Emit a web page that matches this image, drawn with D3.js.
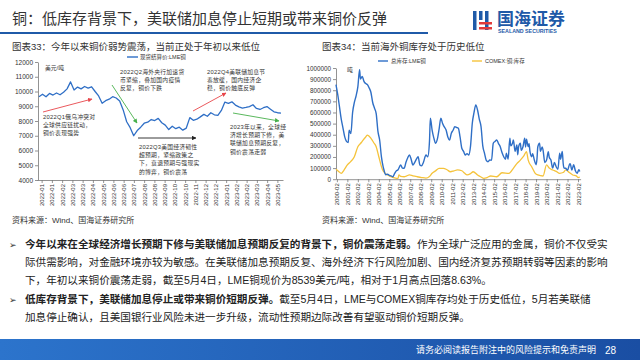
<!DOCTYPE html>
<html><head><meta charset="utf-8">
<script src="https://cdn.jsdelivr.net/npm/d3@7"></script>
<style>
body{margin:0;background:#fff}
svg{display:block}
text{font-family:"Liberation Sans","Noto Sans CJK SC",sans-serif}
</style>
</head><body>
<svg id="c" width="640" height="360"></svg>
<script>
// ---------- data ----------
const priceValues = [9650,9820,9640,9870,9760,9900,9780,9950,10180,10650,10100,10300,10180,10340,10230,10320,10000,9700,9200,9380,
  9480,9650,9560,9350,8750,7950,7550,7000,7350,7580,7850,7920,8100,8030,8180,7880,7720,7420,7650,7480,
  7580,7380,7520,8230,8050,8120,8280,8450,8320,8560,8420,8380,8720,9280,9200,9300,9080,8960,8880,8920,
  8980,9100,8850,8780,8900,8980,8800,8620,8560,8540];
const priceTicks = ["2022-01","2022-01","2022-02","2022-03","2022-03","2022-04","2022-05","2022-06","2022-06","2022-07",
  "2022-08","2022-08","2022-09","2022-10","2022-10","2022-11","2022-12","2022-12","2023-01","2023-02","2023-02","2023-03","2023-04","2023-05"];
const priceYTicks = [4000,5000,6000,7000,8000,9000,10000,11000,12000];

const lmeDates = ["2000-01","2000-03","2000-05","2000-07","2000-09","2000-11","2001-01","2001-03","2001-04","2001-06","2001-08","2001-10","2001-12",
  "2002-02","2002-04","2002-05","2002-07","2002-09","2002-11","2003-01","2003-03","2003-05","2003-07","2003-09","2003-11",
  "2004-01","2004-03","2004-05","2004-07","2004-08","2004-10","2004-12","2005-02","2005-04","2005-06","2005-08","2005-10","2005-12",
  "2006-03","2006-05","2006-07","2006-09","2006-11","2007-01","2007-03","2007-05","2007-07","2007-09","2007-11",
  "2008-01","2008-03","2008-05","2008-08","2008-10","2008-12","2009-01","2009-03","2009-05","2009-07","2009-09","2009-11",
  "2010-01","2010-03","2010-05","2010-07","2010-09","2010-11","2011-01","2011-03","2011-05","2011-07","2011-09","2011-11",
  "2012-01","2012-03","2012-05","2012-07","2012-09","2012-11","2013-01","2013-03","2013-05","2013-07","2013-09","2013-11",
  "2014-01","2014-03","2014-05","2014-07","2014-09","2014-11","2015-01","2015-03","2015-05","2015-07","2015-09","2015-11",
  "2016-01","2016-03","2016-04","2016-06","2016-08","2016-09","2016-11","2016-12","2017-02","2017-04","2017-05","2017-06","2017-08","2017-09","2017-11",
  "2018-01","2018-02","2018-03","2018-05","2018-06","2018-07","2018-09","2018-10","2018-12","2019-02","2019-03","2019-04","2019-06","2019-07","2019-09","2019-10","2019-12",
  "2020-02","2020-04","2020-05","2020-07","2020-09","2020-11","2021-01","2021-03","2021-05","2021-06","2021-08","2021-09","2021-10","2021-12",
  "2022-02","2022-04","2022-05","2022-07","2022-09","2022-11","2023-01","2023-03","2023-04"];
const lmeStocks = [850000,760000,650000,540000,460000,380000,340000,330000,440000,410000,600000,690000,750000,
  830000,985000,900000,925000,880000,860000,850000,820000,780000,690000,640000,590000,
  430000,350000,200000,110000,80000,40000,45000,35000,30000,22000,50000,75000,85000,
  128000,100000,98000,150000,190000,218000,180000,128000,150000,180000,202000,
  128000,120000,150000,218000,202000,340000,548000,442000,370000,323000,360000,450000,
  548000,500000,470000,442000,380000,352000,413000,440000,472000,465000,458000,380000,
  278000,250000,218000,230000,218000,300000,503000,600000,667000,622000,540000,472000,
  300000,233000,170000,157000,172000,170000,323000,340000,352000,320000,292000,240000,
  202000,180000,233000,180000,368000,300000,323000,352000,250000,307000,220000,290000,323000,260000,292000,
  368000,290000,360000,292000,320000,250000,202000,230000,172000,130000,180000,292000,323000,250000,290000,262000,150000,
  172000,247000,200000,172000,100000,150000,112000,90000,233000,180000,250000,143000,100000,98000,
  80000,128000,140000,83000,130000,75000,53000,85000,70000];

const comexDates = ["2000-01","2000-04","2000-07","2000-10","2001-02","2001-06","2001-10","2002-02","2002-06","2002-08","2002-11",
  "2003-01","2003-05","2003-08","2003-11","2004-02","2004-06","2004-09","2004-12","2005-03","2005-06","2005-09","2005-12",
  "2006-01","2006-03","2006-07","2006-10","2007-01","2007-05","2007-10","2008-03","2008-08","2008-12","2009-03","2009-07","2009-11",
  "2010-04","2010-08","2010-12","2011-04","2011-08","2012-01","2012-04","2012-07","2012-11","2013-02","2013-07","2013-11",
  "2014-02","2014-06","2014-10","2015-05","2015-11","2016-07","2016-12","2017-04","2017-08","2017-12","2018-03","2018-05","2018-09",
  "2019-01","2019-04","2019-10","2020-02","2020-05","2020-09","2021-01","2021-05","2021-09","2021-12","2022-04","2022-08","2022-12","2023-02","2023-04"];
const comexStocks = [90000,70000,53000,80000,128000,160000,202000,292000,330000,352000,380000,
  397000,368000,330000,292000,202000,90000,55000,38000,25000,17000,10000,8000,
  38000,25000,22000,30000,38000,30000,22000,15000,10000,25000,53000,75000,98000,
  98000,85000,67000,75000,83000,76000,55000,38000,50000,67000,38000,20000,
  8000,15000,29000,22000,58000,53000,98000,140000,172000,210000,247000,172000,112000,
  53000,38000,29000,128000,100000,83000,70000,53000,60000,83000,60000,38000,30000,15000,20000];
const stockXTicks = d3.range(2000,2024).map(y => y + "-02");
const stockYTicks = d3.range(0,1000001,100000);

// ---------- helpers ----------
const svg = d3.select("#c");
const dec = s => { const [y,m] = s.split("-").map(Number); return y + (m-1)/12; };

const defs = svg.append("defs");
function marker(id, color){
  defs.append("marker").attr("id",id).attr("viewBox","0 0 10 10").attr("refX",9).attr("refY",5)
    .attr("markerWidth",5).attr("markerHeight",5).attr("orient","auto")
    .append("path").attr("d","M0,0L10,5L0,10z").attr("fill",color);
}
marker("mr","#e8464b"); marker("mg","#47b04b"); marker("mk","#222");

const fg = defs.append("linearGradient").attr("id","foot").attr("x1",0).attr("x2",1).attr("y1",0).attr("y2",0);
fg.append("stop").attr("offset",0).attr("stop-color","#2c74cc");
fg.append("stop").attr("offset",1).attr("stop-color","#1a4ea3");

// ---------- header ----------
svg.append("text").attr("x",12).attr("y",24).attr("font-size",15).attr("fill","#333")
  .text("铜：低库存背景下，美联储加息停止短期或带来铜价反弹");
svg.append("rect").attr("x",0).attr("y",32).attr("width",428).attr("height",2).attr("fill","#1f5aa8");
// logo
const lg = svg.append("g").attr("transform","translate(473,11)");
lg.append("rect").attr("x",0).attr("y",0).attr("width",3.5).attr("height",19).attr("fill","#1f5aa8");
lg.append("rect").attr("x",6).attr("y",0).attr("width",3.5).attr("height",9).attr("fill","#1f5aa8");
lg.append("rect").attr("x",12).attr("y",0).attr("width",3.5).attr("height",19).attr("fill","#1f5aa8");
lg.append("rect").attr("x",6).attr("y",11).attr("width",13).attr("height",2.5).attr("fill","#e23a3a");
lg.append("rect").attr("x",6).attr("y",16).attr("width",13).attr("height",2.5).attr("fill","#e23a3a");
svg.append("text").attr("x",497).attr("y",25).attr("font-size",17).attr("font-weight","bold").attr("fill","#1f5aa8").text("国海证券");
svg.append("text").attr("x",498).attr("y",33).attr("font-size",5.3).attr("font-weight","bold").attr("fill","#1f5aa8").text("SEALAND SECURITIES");

// chart titles
svg.append("text").attr("x",12).attr("y",50).attr("font-size",9.5).attr("fill","#333").text("图表33：今年以来铜价弱势震荡，当前正处于年初以来低位");
svg.append("text").attr("x",322).attr("y",50).attr("font-size",9.5).attr("fill","#333").text("图表34：当前海外铜库存处于历史低位");

// ---------- left chart ----------
const xL = d3.scaleLinear().domain([0, priceValues.length-1]).range([39, 281]);
const yL = d3.scaleLinear().domain([4000, 12000]).range([180, 62]);
const bandL = d3.scaleBand().domain(d3.range(priceTicks.length)).range([37, 283]);

function styleAxis(g){
  g.select(".domain").attr("stroke","#777").attr("stroke-width",0.8);
  g.selectAll(".tick line").attr("stroke","#777").attr("stroke-width",0.8);
  g.selectAll("text").attr("fill","#333").style("font-family",'"Liberation Sans",sans-serif');
}
const gyL = svg.append("g").attr("transform","translate(38,0)")
  .call(d3.axisLeft(yL).tickValues(priceYTicks).tickSize(3).tickSizeOuter(0).tickPadding(2).tickFormat(d3.format("d")));
styleAxis(gyL); gyL.selectAll("text").attr("font-size",6.5);
const gxL = svg.append("g").attr("transform","translate(0,180)")
  .call(d3.axisBottom(bandL).tickSize(3).tickSizeOuter(0).tickFormat(i => priceTicks[i]));
styleAxis(gxL);
gxL.selectAll("text").attr("font-size",6).attr("text-anchor","end")
  .attr("transform","translate(0,4) rotate(-90)").attr("x",0).attr("y",0).attr("dy","0.35em");

svg.append("path").datum(priceValues).attr("fill","none").attr("stroke","#2f6fc6").attr("stroke-width",1.3)
  .attr("stroke-linejoin","round")
  .attr("d", d3.line().x((d,i)=>xL(i)).y(d=>yL(d)));

// legend & unit
svg.append("line").attr("x1",127).attr("x2",138).attr("y1",57).attr("y2",57).attr("stroke","#2f6fc6").attr("stroke-width",1.4);
svg.append("text").attr("x",140).attr("y",59).attr("font-size",5.5).attr("fill","#333").text("现货结算价:LME铜");
svg.append("text").attr("x",45).attr("y",70).attr("font-size",5.8).attr("fill","#333").text("美元/吨");

// annotations
const notes = [
  {x:43, y:119, lines:["2022Q1俄乌冲突对","全球供应链扰动，","铜价表现强势"]},
  {x:120, y:74, lines:["2022Q2海外央行加速货","币紧缩，叠加国内疫情","反复，铜价下跌"]},
  {x:139, y:149, lines:["2022Q3美国经济韧性","超预期，紧缩政策之","下，衰退预期与强现实","的博弈，铜价震荡"]},
  {x:207, y:74, lines:["2022Q4美联储加息节","奏放缓，国内经济企","稳，铜价触底反弹"]},
  {x:230, y:129, lines:["2023年以来，全球经","济增长预期下修，美","联储加息预期反复，","铜价震荡走弱"]}
];
notes.forEach(n => {
  const t = svg.append("text").attr("font-size",5.8).attr("fill","#333").attr("letter-spacing",0.25);
  n.lines.forEach((l,i) => t.append("tspan").attr("x",n.x).attr("y",n.y + i*8.2).text(l));
});
const arrows = [
  {x1:43,y1:112,x2:92,y2:99,c:"#e8464b",m:"mr"},
  {x1:112,y1:85,x2:137,y2:123,c:"#47b04b",m:"mg"},
  {x1:138,y1:138,x2:196,y2:138,c:"#222",m:"mk"},
  {x1:193,y1:111,x2:226,y2:93,c:"#e8464b",m:"mr"},
  {x1:233,y1:113,x2:279,y2:121,c:"#47b04b",m:"mg"}
];
arrows.forEach(a => svg.append("line").attr("x1",a.x1).attr("y1",a.y1).attr("x2",a.x2).attr("y2",a.y2)
  .attr("stroke",a.c).attr("stroke-width",0.9).attr("marker-end",`url(#${a.m})`));

svg.append("text").attr("x",12).attr("y",223).attr("font-size",8).attr("fill","#333").text("资料来源：Wind、国海证券研究所");

// ---------- right chart ----------
const xR = d3.scaleLinear().domain([2000, 2023.33]).range([336, 580.6]);
const yR = d3.scaleLinear().domain([0, 1000000]).range([179.2, 68]);
const gyR = svg.append("g").attr("transform","translate(336,0)")
  .call(d3.axisLeft(yR).tickValues(stockYTicks).tickSize(3).tickSizeOuter(0).tickPadding(2).tickFormat(d3.format("d")));
styleAxis(gyR); gyR.selectAll("text").attr("font-size",6.3);
const gxR = svg.append("g").attr("transform","translate(0,179.2)")
  .call(d3.axisBottom(xR).tickValues(stockXTicks.map(dec)).tickSize(3).tickSizeOuter(0).tickFormat((d,i)=>stockXTicks[i]));
styleAxis(gxR);
gxR.selectAll("text").attr("font-size",6).attr("text-anchor","end")
  .attr("transform","translate(0,4) rotate(-90)").attr("x",0).attr("y",0).attr("dy","0.35em");

const lineR = d3.line().x(d=>xR(d[0])).y(d=>yR(d[1])).curve(d3.curveMonotoneX);
svg.append("path").datum(comexDates.map((d,i)=>[dec(d), comexStocks[i]])).attr("fill","none")
  .attr("stroke","#f5c33b").attr("stroke-width",1.3).attr("d", lineR);
svg.append("path").datum(lmeDates.map((d,i)=>[dec(d), lmeStocks[i]])).attr("fill","none")
  .attr("stroke","#2f6fc6").attr("stroke-width",1.4).attr("stroke-linejoin","round").attr("d", lineR);

svg.append("line").attr("x1",378).attr("x2",388).attr("y1",61).attr("y2",61).attr("stroke","#2f6fc6").attr("stroke-width",1.4);
svg.append("text").attr("x",391).attr("y",63).attr("font-size",5.5).attr("fill","#333").text("总库存:LME铜");
svg.append("line").attr("x1",472).attr("x2",482).attr("y1",61).attr("y2",61).attr("stroke","#f5c33b").attr("stroke-width",1.4);
svg.append("text").attr("x",485).attr("y",63).attr("font-size",5.5).attr("fill","#333").text("COMEX:铜:库存");
svg.append("text").attr("x",347).attr("y",72).attr("font-size",5.8).attr("fill","#333").text("吨");

svg.append("text").attr("x",322).attr("y",223).attr("font-size",8).attr("fill","#333").text("资料来源：Wind、国海证券研究所");

// ---------- body text ----------
const body = [
  {y:248, bullet:true, parts:[{b:true,t:"今年以来在全球经济增长预期下修与美联储加息预期反复的背景下，铜价震荡走弱。"},{b:false,t:"作为全球广泛应用的金属，铜价不仅受实"}]},
  {y:266, parts:[{b:false,t:"际供需影响，对金融环境亦较为敏感。在美联储加息预期反复、海外经济下行风险加剧、国内经济复苏预期转弱等因素的影响"}]},
  {y:284, parts:[{b:false,t:"下，年初以来铜价震荡走弱，截至5月4日，LME铜现价为8539美元/吨，相对于1月高点回落8.63%。"}]},
  {y:303, bullet:true, parts:[{b:true,t:"低库存背景下，美联储加息停止或带来铜价短期反弹。"},{b:false,t:"截至5月4日，LME与COMEX铜库存均处于历史低位，5月若美联储"}]},
  {y:321, parts:[{b:false,t:"加息停止确认，且美国银行业风险未进一步升级，流动性预期边际改善有望驱动铜价短期反弹。"}]}
];
body.forEach(r => {
  if (r.bullet) svg.append("text").attr("x",9).attr("y",r.y).attr("font-size",9).attr("fill","#333")
    .style("font-family",'"DejaVu Sans",sans-serif').text("➢");
  const t = svg.append("text").attr("x",25).attr("y",r.y).attr("font-size",10.6).attr("fill","#222");
  r.parts.forEach(p => t.append("tspan").attr("font-weight", p.b ? "bold" : "normal").text(p.t));
});

// ---------- footer ----------
svg.append("rect").attr("x",0).attr("y",339).attr("width",640).attr("height",21).attr("fill","url(#foot)");
svg.append("text").attr("x",596).attr("y",353).attr("text-anchor","end").attr("font-size",9).attr("fill","#fff")
  .text("请务必阅读报告附注中的风险提示和免责声明");
svg.append("text").attr("x",605).attr("y",354).attr("font-size",10).attr("fill","#fff").text("28");
</script>
</body></html>
